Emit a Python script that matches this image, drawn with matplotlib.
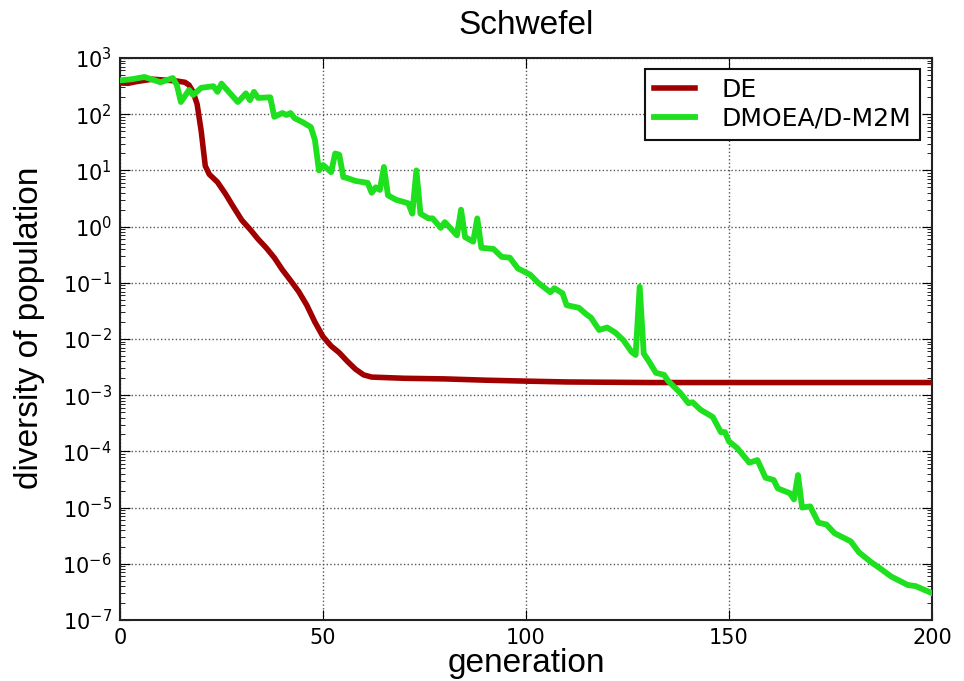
import matplotlib
matplotlib.use("Agg")
import matplotlib.pyplot as plt
from matplotlib.ticker import LogLocator, FixedLocator

title = "Schwefel"
xlabel = "generation"
ylabel = "diversity of population"
series_names = ["DE", "DMOEA/D-M2M"]

de_gen = [0, 2, 4, 6, 8, 10, 12, 14, 16, 17, 18, 19, 20, 21, 22, 24, 26, 28, 30, 32, 34,
          36, 38, 40, 42, 44, 46, 48, 50, 52, 54, 56, 58, 60, 62, 70, 80, 90, 100, 110,
          130, 200]
de_val = [360, 355, 380, 400, 420, 410, 400, 390, 370, 330, 250, 150, 50, 12, 8.5, 6.2,
          3.8, 2.2, 1.3, 0.9, 0.6, 0.42, 0.28, 0.17, 0.11, 0.07, 0.04, 0.02, 0.011, 0.0075,
          0.0057, 0.004, 0.0029, 0.0023, 0.0021, 0.0020, 0.00195, 0.00185, 0.00178,
          0.00172, 0.00168, 0.00168]

m2m_gen = [0, 3, 6, 10, 13, 14, 15, 17, 18, 20, 23, 24, 25, 29, 30, 31, 32, 33, 34, 37,
           38, 40, 41, 42, 43, 45, 47, 48, 49, 50, 52, 53, 54, 55, 56, 58, 61, 62, 63, 64,
           65, 66, 68, 71, 72, 73, 74, 76, 77, 79, 80, 83, 84, 85, 87, 88, 89, 92, 94, 96,
           98, 101, 103, 106, 107, 109, 110, 113, 115, 116, 118, 120, 122, 124, 126, 127,
           128, 129, 130, 132, 134, 135, 138, 140, 141, 143, 146, 148, 149, 150, 152, 155,
           157, 159, 161, 162, 165, 166, 167, 168, 170, 172, 174, 176, 180, 182, 185, 187,
           190, 194, 196, 200]
m2m_val = [400, 420, 460, 370, 440, 330, 165, 270, 220, 295, 315, 250, 350, 165, 195, 235,
           178, 250, 195, 200, 90, 105, 97, 105, 85, 72, 59, 35, 10, 12.5, 9.3, 20, 19, 7.6,
           7.3, 6.5, 6.0, 4.0, 5.0, 4.5, 11.5, 3.6, 3.0, 2.6, 1.7, 10, 1.7, 1.4, 1.4, 0.95,
           1.2, 0.7, 2.0, 0.65, 0.54, 1.4, 0.42, 0.4, 0.29, 0.28, 0.18, 0.14, 0.10, 0.068,
           0.08, 0.065, 0.04, 0.036, 0.027, 0.024, 0.0145, 0.016, 0.013, 0.0095, 0.0059,
           0.0052, 0.085, 0.0055, 0.0043, 0.0025, 0.0023, 0.0018, 0.0011, 0.00072, 0.00075,
           0.00055, 0.00041, 0.00022, 0.00022, 0.00015, 0.000115, 0.000063, 0.00007,
           0.000034, 0.000031, 0.000022, 0.000018, 0.000014, 0.000038, 0.00001, 0.0000105,
           0.0000054, 0.000005, 0.0000035, 0.0000025, 0.0000016, 0.00000107, 0.00000085,
           0.00000059, 0.00000042, 0.0000004, 0.0000003]

fig = plt.figure(figsize=(9.64, 6.81), dpi=100)
ax = fig.add_axes([0.1245, 0.0896, 0.8423, 0.8252])

ax.plot(de_gen, de_val, color="#a00000", lw=4.0, label=series_names[0], zorder=3)
ax.plot(m2m_gen, m2m_val, color="#1ee01e", lw=4.2, label=series_names[1], zorder=4)

ax.set_yscale("log")
ax.set_xlim(0, 200)
ax.set_ylim(1e-7, 1e3)
ax.xaxis.set_major_locator(FixedLocator([0, 50, 100, 150, 200]))
ax.yaxis.set_major_locator(LogLocator(base=10, numticks=20))
ax.yaxis.set_minor_locator(LogLocator(base=10, subs=range(2, 10), numticks=20))

ax.grid(True, which="major", linestyle=":", color="#555555", linewidth=1.0)
ax.tick_params(which="both", direction="in", top=True, right=True, labelsize=15)
ax.tick_params(which="major", length=7, pad=6)
ax.tick_params(which="minor", length=3.5)
for sp in ax.spines.values():
    sp.set_linewidth(1.5)
    sp.set_color("#222222")

for lab in ax.get_xticklabels() + ax.get_yticklabels():
    lab.set_fontfamily("DejaVu Sans")

ax.set_title(title, fontsize=24, family="Liberation Sans", pad=17)
ax.set_xlabel(xlabel, fontsize=24, family="Liberation Sans", labelpad=0)
ax.set_ylabel(ylabel, fontsize=24, family="Liberation Sans")
ax.yaxis.set_label_coords(-0.092, 0.52)

leg = ax.legend(loc="upper right", bbox_to_anchor=(0.985, 0.9804), borderaxespad=0,
                prop={"family": "DejaVu Sans", "size": 18},
                fancybox=False, edgecolor="#111111", framealpha=1,
                handlelength=1.65, handletextpad=1.05, borderpad=0.35, labelspacing=0.2)
leg.get_frame().set_linewidth(1.5)

fig.savefig("out.png", dpi=100)
